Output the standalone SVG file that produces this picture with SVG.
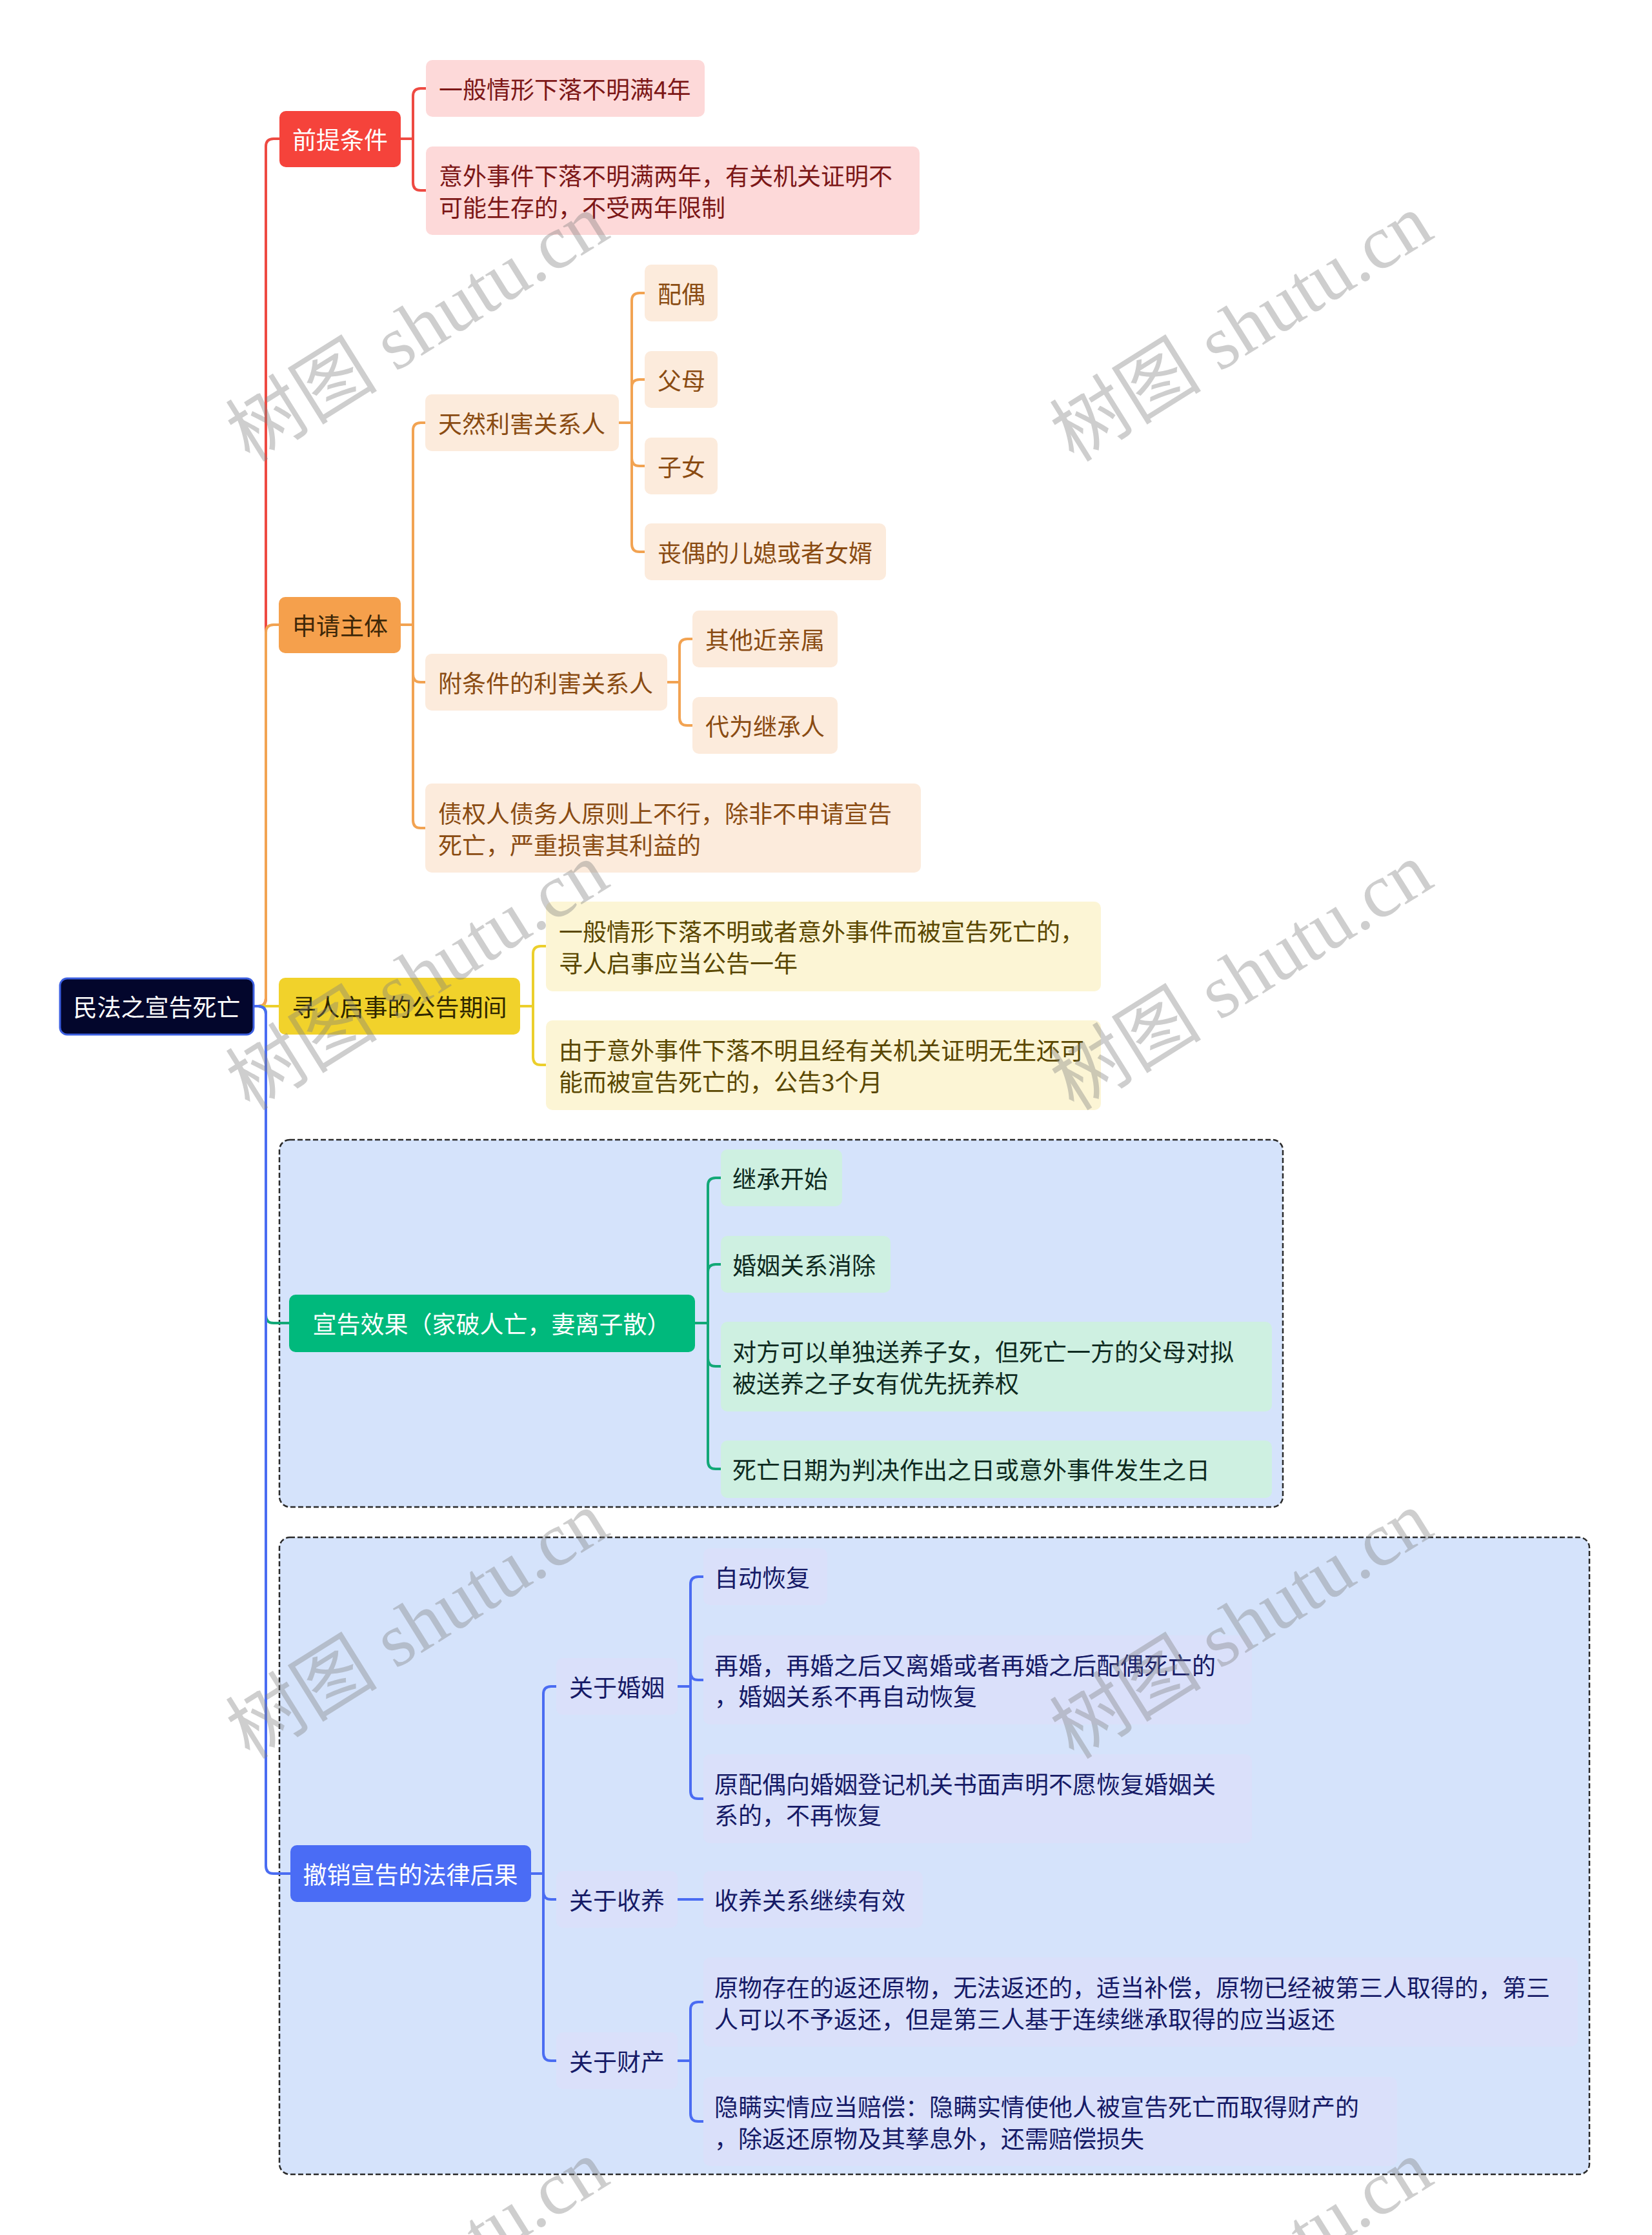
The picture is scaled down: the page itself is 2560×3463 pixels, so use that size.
<svg xmlns="http://www.w3.org/2000/svg" width="2560" height="3463" viewBox="0 0 2560 3463">
<style>
text{font-family:"Noto Sans CJK SC","Noto Sans",sans-serif;font-size:37px;dominant-baseline:central}
.c{text-anchor:middle}
.ln{fill:none;stroke-width:4;stroke-linecap:round;stroke-linejoin:round}
.red{stroke:#ee4a42}.org{stroke:#f2a352}.yel{stroke:#eccf2c}.grn{stroke:#12a877}.blu{stroke:#4a6cf2}
.grp{fill:#d5e3fb;stroke:#2a2a2a;stroke-width:2.5;stroke-dasharray:8 4}
.rootb{fill:#03062c;stroke:#3c5fe0;stroke-width:3}
.rb{fill:#f5433b}.ob{fill:#f5a04c}.yb{fill:#f1d22b}.gb{fill:#00b97c}.bb{fill:#4a6cf5}
.rl{fill:#fdd9d9}.ol{fill:#fcebdc}.yl{fill:#fcf5d5}.gl{fill:#cef0e1}.bl{fill:#dae0fa}
.tw{fill:#ffffff}.tr{fill:#7c1717}.to{fill:#8a4b12}.tod{fill:#3d2708}.ty{fill:#5a4700}.tyd{fill:#2e2600}.tg{fill:#0e2a1f}.tb{fill:#151a66}
.wm{font-family:"Liberation Serif","Noto Sans CJK SC",serif;font-size:118px;fill:#808080;opacity:0.38;text-anchor:middle;dominant-baseline:auto}
</style>

<rect x="433" y="1766" width="1555" height="569" rx="16" class="grp"/>
<rect x="433" y="2382" width="2030" height="987" rx="16" class="grp"/>

<g id="connectors">
<path class="ln red" d="M393 1559 H400 Q412 1559 412 1547 V227 Q412 215 424 215 H433"/>
<path class="ln org" d="M393 1559 H400 Q412 1559 412 1547 V980 Q412 968 424 968 H432"/>
<path class="ln yel" d="M393 1559 H432"/>
<path class="ln grn" d="M393 1559 H400 Q412 1559 412 1571 V2038 Q412 2050 424 2050 H448"/>
<path class="ln blu" d="M393 1559 H400 Q412 1559 412 1571 V2891 Q412 2903 424 2903 H450"/>

<path class="ln red" d="M620 215 H640 M640 215 V149 Q640 137 652 137 H660 M640 215 V283 Q640 295 652 295 H660"/>
<path class="ln org" d="M621 968 H640 M640 968 V667 Q640 655 652 655 H659 M640 968 V1045 Q640 1057 652 1057 H659 M640 968 V1271 Q640 1283 652 1283 H659"/>
<path class="ln org" d="M959 655 H979 M979 655 V466 Q979 454 991 454 H999 M979 655 V600 Q979 588 991 588 H999 M979 655 V710 Q979 722 991 722 H999 M979 655 V843 Q979 855 991 855 H999"/>
<path class="ln org" d="M1034 1057 H1053 M1053 1057 V1002 Q1053 990 1065 990 H1073 M1053 1057 V1112 Q1053 1124 1065 1124 H1073"/>
<path class="ln yel" d="M806 1559 H826 M826 1559 V1478 Q826 1466 838 1466 H846 M826 1559 V1638 Q826 1650 838 1650 H846"/>
<path class="ln grn" d="M1077 2050 H1097 M1097 2050 V1837 Q1097 1825 1109 1825 H1117 M1097 2050 V1971 Q1097 1959 1109 1959 H1117 M1097 2050 V2105 Q1097 2117 1109 2117 H1117 M1097 2050 V2264 Q1097 2276 1109 2276 H1117"/>
<path class="ln blu" d="M823 2903 H842 M842 2903 V2625 Q842 2613 854 2613 H862 M842 2903 V2931 Q842 2943 854 2943 H862 M842 2903 V3181 Q842 3193 854 3193 H862"/>
<path class="ln blu" d="M1050 2613 H1070 M1070 2613 V2455 Q1070 2443 1082 2443 H1090 M1070 2613 V2591 Q1070 2603 1082 2603 H1090 M1070 2613 V2775 Q1070 2787 1082 2787 H1090"/>
<path class="ln blu" d="M1050 2943 H1090"/>
<path class="ln blu" d="M1050 3193 H1070 M1070 3193 V3114 Q1070 3102 1082 3102 H1090 M1070 3193 V3275 Q1070 3287 1082 3287 H1090"/>
</g>

<g id="root"><rect x="93" y="1516" width="300" height="87" rx="11" class="rootb"/><text x="243" y="1559" class="c tw">民法之宣告死亡</text></g>

<g id="n-qiantitiaojian"><rect x="433" y="172" width="188" height="87" rx="10" class="rb"/><text x="527" y="215" class="c tw">前提条件</text></g>
<g id="n-q1"><rect x="660" y="93" width="432" height="88" rx="10" class="rl"/><text x="680" y="137" class="tr">一般情形下落不明满4年</text></g>
<g id="n-q2"><rect x="660" y="227" width="765" height="137" rx="10" class="rl"/><text x="680" y="271" class="tr">意外事件下落不明满两年，有关机关证明不</text><text x="680" y="320" class="tr">可能生存的，不受两年限制</text></g>

<g id="n-shenqingzhuti"><rect x="432" y="925" width="189" height="87" rx="10" class="ob"/><text x="527" y="968" class="c tod">申请主体</text></g>
<g id="n-tianran"><rect x="659" y="611" width="300" height="88" rx="10" class="ol"/><text x="679" y="655" class="to">天然利害关系人</text></g>
<g id="n-peiou"><rect x="999" y="410" width="113" height="88" rx="10" class="ol"/><text x="1019" y="454" class="to">配偶</text></g>
<g id="n-fumu"><rect x="999" y="544" width="113" height="88" rx="10" class="ol"/><text x="1019" y="588" class="to">父母</text></g>
<g id="n-zinv"><rect x="999" y="678" width="113" height="88" rx="10" class="ol"/><text x="1019" y="722" class="to">子女</text></g>
<g id="n-sangou"><rect x="999" y="811" width="374" height="88" rx="10" class="ol"/><text x="1019" y="855" class="to">丧偶的儿媳或者女婿</text></g>
<g id="n-futiaojian"><rect x="659" y="1013" width="375" height="88" rx="10" class="ol"/><text x="679" y="1057" class="to">附条件的利害关系人</text></g>
<g id="n-qita"><rect x="1073" y="946" width="225" height="88" rx="10" class="ol"/><text x="1093" y="990" class="to">其他近亲属</text></g>
<g id="n-daiwei"><rect x="1073" y="1080" width="225" height="88" rx="10" class="ol"/><text x="1093" y="1124" class="to">代为继承人</text></g>
<g id="n-zhaiquan"><rect x="659" y="1214" width="768" height="138" rx="10" class="ol"/><text x="679" y="1259" class="to">债权人债务人原则上不行，除非不申请宣告</text><text x="679" y="1308" class="to">死亡，严重损害其利益的</text></g>

<g id="n-xunren"><rect x="432" y="1515" width="374" height="88" rx="10" class="yb"/><text x="619" y="1559" class="c tyd">寻人启事的公告期间</text></g>
<g id="n-x1"><rect x="846" y="1397" width="860" height="139" rx="10" class="yl"/><text x="866" y="1442" class="ty">一般情形下落不明或者意外事件而被宣告死亡的，</text><text x="866" y="1491" class="ty">寻人启事应当公告一年</text></g>
<g id="n-x2"><rect x="846" y="1581" width="860" height="139" rx="10" class="yl"/><text x="866" y="1626" class="ty">由于意外事件下落不明且经有关机关证明无生还可</text><text x="866" y="1675" class="ty">能而被宣告死亡的，公告3个月</text></g>

<g id="n-xuangao"><rect x="448" y="2006" width="629" height="89" rx="10" class="gb"/><text x="762" y="2050" class="c tw">宣告效果（家破人亡，妻离子散）</text></g>
<g id="n-g1"><rect x="1117" y="1781" width="188" height="88" rx="10" class="gl"/><text x="1135" y="1825" class="tg">继承开始</text></g>
<g id="n-g2"><rect x="1117" y="1915" width="263" height="88" rx="10" class="gl"/><text x="1135" y="1959" class="tg">婚姻关系消除</text></g>
<g id="n-g3"><rect x="1117" y="2048" width="854" height="139" rx="10" class="gl"/><text x="1135" y="2093" class="tg">对方可以单独送养子女，但死亡一方的父母对拟</text><text x="1135" y="2142" class="tg">被送养之子女有优先抚养权</text></g>
<g id="n-g4"><rect x="1117" y="2232" width="854" height="89" rx="10" class="gl"/><text x="1135" y="2276" class="tg">死亡日期为判决作出之日或意外事件发生之日</text></g>

<g id="n-chexiao"><rect x="450" y="2859" width="373" height="88" rx="10" class="bb"/><text x="636" y="2903" class="c tw">撤销宣告的法律后果</text></g>
<g id="n-hunyin"><rect x="862" y="2569" width="188" height="88" rx="10" class="bl"/><text x="882" y="2613" class="tb">关于婚姻</text></g>
<g id="n-h1"><rect x="1090" y="2399" width="192" height="88" rx="10" class="bl"/><text x="1107" y="2443" class="tb">自动恢复</text></g>
<g id="n-h2"><rect x="1090" y="2534" width="850" height="138" rx="10" class="bl"/><text x="1107" y="2579" class="tb">再婚，再婚之后又离婚或者再婚之后配偶死亡的</text><text x="1107" y="2627" class="tb">，婚姻关系不再自动恢复</text></g>
<g id="n-h3"><rect x="1090" y="2718" width="850" height="138" rx="10" class="bl"/><text x="1107" y="2763" class="tb">原配偶向婚姻登记机关书面声明不愿恢复婚姻关</text><text x="1107" y="2811" class="tb">系的，不再恢复</text></g>
<g id="n-shouyang"><rect x="862" y="2899" width="188" height="88" rx="10" class="bl"/><text x="882" y="2943" class="tb">关于收养</text></g>
<g id="n-s1"><rect x="1090" y="2899" width="340" height="88" rx="10" class="bl"/><text x="1107" y="2943" class="tb">收养关系继续有效</text></g>
<g id="n-caichan"><rect x="862" y="3149" width="188" height="88" rx="10" class="bl"/><text x="882" y="3193" class="tb">关于财产</text></g>
<g id="n-c1"><rect x="1090" y="3033" width="1355" height="138" rx="10" class="bl"/><text x="1107" y="3078" class="tb">原物存在的返还原物，无法返还的，适当补偿，原物已经被第三人取得的，第三</text><text x="1107" y="3127" class="tb">人可以不予返还，但是第三人基于连续继承取得的应当返还</text></g>
<g id="n-c2"><rect x="1090" y="3218" width="1075" height="138" rx="10" class="bl"/><text x="1107" y="3263" class="tb">隐瞒实情应当赔偿：隐瞒实情使他人被宣告死亡而取得财产的</text><text x="1107" y="3312" class="tb">，除返还原物及其孳息外，还需赔偿损失</text></g>

<g id="watermarks">
<text class="wm" transform="translate(668 542) rotate(-32)">树图 shutu.cn</text>
<text class="wm" transform="translate(1945 542) rotate(-32)">树图 shutu.cn</text>
<text class="wm" transform="translate(668 1547) rotate(-32)">树图 shutu.cn</text>
<text class="wm" transform="translate(1945 1547) rotate(-32)">树图 shutu.cn</text>
<text class="wm" transform="translate(668 2552) rotate(-32)">树图 shutu.cn</text>
<text class="wm" transform="translate(1945 2552) rotate(-32)">树图 shutu.cn</text>
<text class="wm" transform="translate(668 3557) rotate(-32)">树图 shutu.cn</text>
<text class="wm" transform="translate(1945 3557) rotate(-32)">树图 shutu.cn</text>
</g>
</svg>
